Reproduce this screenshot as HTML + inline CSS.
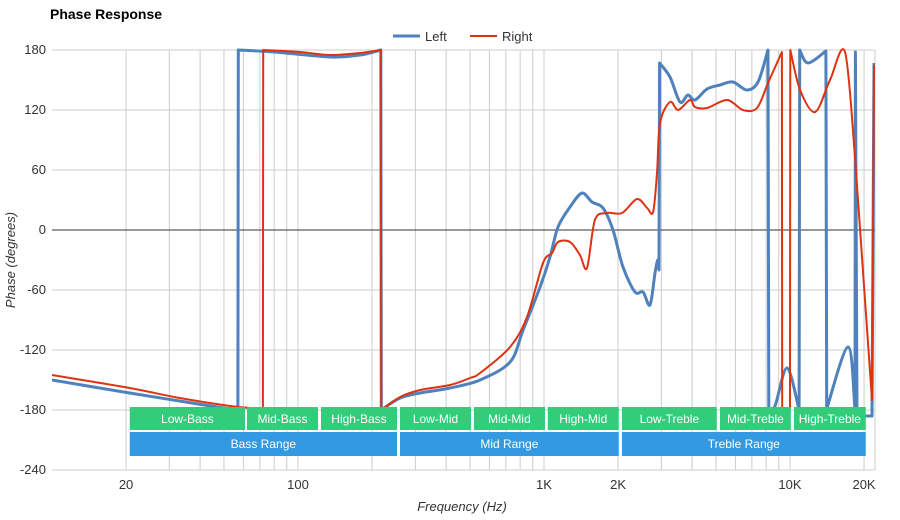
<!DOCTYPE html>
<html><head><meta charset="utf-8"><style>
body{margin:0;background:#fff;font-family:"Liberation Sans",sans-serif}
svg{display:block}
</style></head><body>
<svg id="c" width="900" height="520" viewBox="0 0 900 520"></svg>
<script>
const xTicks=[20,100,1000,2000,10000,20000];
const xTickLabels=["20","100","1K","2K","10K","20K"];
const yTicks=[180,120,60,0,-60,-120,-180,-240];
const leftFreq=[10,20.7,33,53,57,57.2,80,135,179,217,218,260,314,415,550,728,822,964,1058,1140,1276,1427,1567,1737,1907,2094,2344,2525,2697,2827,2900,2933,2950,3252,3570,3847,4110,4600,5190,5860,6680,7410,8140,8200,8690,9730,10890,10950,11840,14000,14100,17220,18380,18450,18720,21540,21950];
const leftPhase=[-150,-163,-171,-179,-180,180,178,173,175,180,-180,-168,-163,-158,-150,-132,-100,-57,-27,3,23,37,28,22,0,-37,-62,-62,-75,-43,-30,-40,167,153,128,135,130,141,145,148,140,148,180,-178,-176,-138,-180,180,167,179,-179,-117,-180,178,-186,-186,167];
const rightFreq=[10,20.7,33,53,72,72.2,102,135,179,217,218,260,314,415,500,550,728,853,991,1079,1140,1276,1400,1496,1611,1803,2075,2389,2624,2776,2879,2963,3252,3510,3920,4110,4600,5550,6440,7340,8140,9270,9300,10000,10030,10990,12650,14540,16740,18380,21540,21950];
const rightPhase=[-145,-158,-168,-176,-179,180,178,175,177,180,-180,-167,-160,-155,-148,-143,-117,-87,-33,-23,-12,-12,-25,-38,10,17,17,31,22,18,57,107,128,120,130,123,122,130,120,122,147,178,-180,-178,180,140,118,150,178,73,-170,165];
const bandNames=["Low-Bass","Mid-Bass","High-Bass","Low-Mid","Mid-Mid","High-Mid","Low-Treble","Mid-Treble","High-Treble"];
const bandEdges=[[20.7,60.9],[62,120.6],[124,252.6],[259.8,505],[519,1009],[1036,2013],[2074,5040],[5190,10080],[10380,20320]];
const rangeNames=["Bass Range","Mid Range","Treble Range"];
const rangeEdges=[[20.7,252.6],[259.8,2013],[2074,20320]];

const NS="http://www.w3.org/2000/svg";
const svg=document.getElementById('c');
const X0=52,X1=875,Y0=50,Y1=470;
const xs=f=>298+(Math.log10(f)-2)*246;
const ys=p=>230-p*1.0;
function mk(t,a,p){const e=document.createElementNS(NS,t);for(const k in a)e.setAttribute(k,a[k]);(p||svg).appendChild(e);return e;}

const defs=mk('defs',{});
const cp=mk('clipPath',{id:'pc'},defs);
mk('rect',{x:X0,y:Y0-2,width:X1-X0,height:Y1-Y0+4},cp);

for(let d=10;d<=10000;d*=10){for(let m=1;m<=9;m++){const f=d*m;if(f<20||f>20000)continue;const x=xs(f);
const g=mk('line',{x1:x,x2:x,y1:Y0,y2:Y1,stroke:'#cccccc','stroke-width':1});

}}
mk('line',{x1:X1,x2:X1,y1:Y0,y2:Y1,stroke:'#cccccc'});
yTicks.forEach(v=>{const y=ys(v);
const g=mk('line',{x1:X0,x2:X1,y1:y,y2:y,stroke:v===0?'#333':'#cccccc','stroke-width':1});


const t=mk('text',{x:46,y:y+4,'text-anchor':'end','font-size':13,fill:'#333'});t.textContent=v;

});
xTicks.forEach((f,i)=>{const t=mk('text',{x:xs(f),y:489,'text-anchor':'middle','font-size':13,fill:'#333'});t.textContent=xTickLabels[i];

});

function series(F,P,color,w,name){
  const pts=F.map((f,i)=>[xs(f),ys(P[i])]);
  // split into segments at wraps
  const segs=[[pts[0]]];
  for(let i=1;i<pts.length;i++){
    if(Math.abs(P[i]-P[i-1])>150){segs.push([pts[i]]);}else segs[segs.length-1].push(pts[i]);
  }
  let d='';
  segs.forEach((s,si)=>{
    d+=(si?'L':'M')+s[0][0].toFixed(1)+','+s[0][1].toFixed(1);
    for(let i=0;i<s.length-1;i++){
      const p0=s[Math.max(0,i-1)],p1=s[i],p2=s[i+1],p3=s[Math.min(s.length-1,i+2)];
      const t=0.16;
      const c1=[p1[0]+(p2[0]-p0[0])*t,p1[1]+(p2[1]-p0[1])*t];
      const c2=[p2[0]-(p3[0]-p1[0])*t,p2[1]-(p3[1]-p1[1])*t];
      d+='C'+c1[0].toFixed(1)+','+c1[1].toFixed(1)+' '+c2[0].toFixed(1)+','+c2[1].toFixed(1)+' '+p2[0].toFixed(1)+','+p2[1].toFixed(1);
    }
  });
  const p=mk('path',{d:d,fill:'none',stroke:color,'stroke-width':w,'stroke-linejoin':'round','clip-path':'url(#pc)'});
  
  }
series(leftFreq,leftPhase,'#4f81bd',3,'left-series');
series(rightFreq,rightPhase,'#dd3311',2,'right-series');

bandEdges.forEach((e,i)=>{const x=xs(e[0]),w=xs(e[1])-x;
const r=mk('rect',{x:x,y:407,width:w,height:23,fill:'#33cc7a'});


const t=mk('text',{x:x+w/2,y:423,'text-anchor':'middle','font-size':12,fill:'#fff'});t.textContent=bandNames[i];

});
rangeEdges.forEach((e,i)=>{const x=xs(e[0]),w=xs(e[1])-x;
const r=mk('rect',{x:x,y:432,width:w,height:24,fill:'#3399e0'});


const t=mk('text',{x:x+w/2,y:448,'text-anchor':'middle','font-size':12,fill:'#fff'});t.textContent=rangeNames[i];

});
</script>
<svg style="position:absolute;left:0;top:0" width="900" height="520">
<text x="50" y="19" font-size="14" font-weight="bold" fill="#000">Phase Response</text>
<g><line x1="393" x2="420" y1="36" y2="36" stroke="#4f81bd" stroke-width="3"/><text x="425" y="41" font-size="13" fill="#333">Left</text></g>
<g><line x1="470" x2="497" y1="36" y2="36" stroke="#dd3311" stroke-width="2"/><text x="502" y="41" font-size="13" fill="#333">Right</text></g>
<text x="462" y="511" font-size="13" font-style="italic" text-anchor="middle" fill="#333">Frequency (Hz)</text>
<text transform="translate(15,260) rotate(-90)" font-size="13" font-style="italic" text-anchor="middle" fill="#333">Phase (degrees)</text>
</svg>
</body></html>
